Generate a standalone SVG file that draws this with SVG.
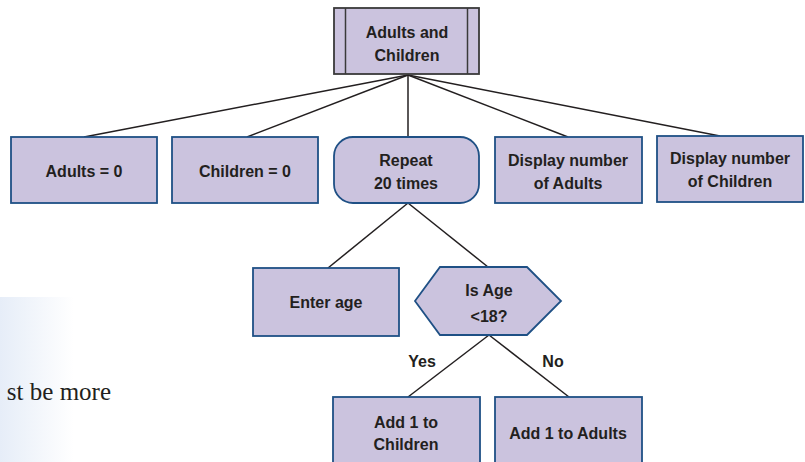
<svg xmlns="http://www.w3.org/2000/svg" width="805" height="462" viewBox="0 0 805 462">
<style>
.box{fill:#cbc3de;stroke:#1f5085;stroke-width:1.8}
.top{fill:#cbc3de;stroke:#3a3a3a;stroke-width:1.8}
.lbl{font-family:"Liberation Sans",Arial,sans-serif;font-weight:bold;font-size:16px;fill:#231f20;text-anchor:middle}
.con line{stroke:#231f20;stroke-width:1.5}
</style>
<defs>
<linearGradient id="fade" x1="0" y1="0" x2="1" y2="0">
<stop offset="0" stop-color="#e6edf8"/>
<stop offset="1" stop-color="#ffffff"/>
</linearGradient>
</defs>
<rect width="805" height="462" fill="#ffffff"/>
<rect x="0" y="297" width="74" height="165" fill="url(#fade)"/>
<text x="111" y="400" font-family="Liberation Serif,'Times New Roman',serif" font-size="25" fill="#231f20" text-anchor="end">st be more</text>
<g id="connectors" class="con">
<line x1="408" y1="75" x2="84" y2="137"/>
<line x1="408" y1="75" x2="247" y2="137"/>
<line x1="408" y1="75" x2="408" y2="137"/>
<line x1="408" y1="75" x2="568" y2="137"/>
<line x1="408" y1="75" x2="720" y2="136"/>
<line x1="408" y1="203" x2="328" y2="268"/>
<line x1="408" y1="203" x2="488" y2="267"/>
<line x1="489" y1="335" x2="408" y2="397"/>
<line x1="489" y1="335" x2="569" y2="397"/>
</g>
<g id="root">
<rect class="top" x="334" y="8" width="145" height="66"/>
<line x1="345.5" y1="8" x2="345.5" y2="74" stroke="#3a3a3a" stroke-width="1.5"/>
<line x1="467.5" y1="8" x2="467.5" y2="74" stroke="#3a3a3a" stroke-width="1.5"/>
<text class="lbl" x="407" y="38">Adults and</text>
<text class="lbl" x="407" y="61">Children</text>
</g>
<g id="adults0">
<rect class="box" x="11" y="137" width="146" height="66"/>
<text class="lbl" x="84" y="177">Adults = 0</text>
</g>
<g id="children0">
<rect class="box" x="172" y="137" width="146" height="66"/>
<text class="lbl" x="245" y="177">Children = 0</text>
</g>
<g id="repeat">
<rect class="box" x="334" y="137" width="145" height="66" rx="19" ry="19"/>
<text class="lbl" x="406" y="166">Repeat</text>
<text class="lbl" x="406" y="189">20 times</text>
</g>
<g id="displayAdults">
<rect class="box" x="495" y="137" width="147" height="66"/>
<text class="lbl" x="568" y="166">Display number</text>
<text class="lbl" x="568" y="189">of Adults</text>
</g>
<g id="displayChildren">
<rect class="box" x="657" y="136" width="146" height="66"/>
<text class="lbl" x="730" y="164">Display number</text>
<text class="lbl" x="730" y="187">of Children</text>
</g>
<g id="enterAge">
<rect class="box" x="253" y="268" width="146" height="68"/>
<text class="lbl" x="326" y="308">Enter age</text>
</g>
<g id="isAge">
<polygon class="box" points="415,301 440,267 527,267 561,301 527,335 440,335"/>
<text class="lbl" x="489" y="296">Is Age</text>
<text class="lbl" x="489" y="322">&lt;18?</text>
</g>
<g id="labels">
<text class="lbl" x="422" y="367">Yes</text>
<text class="lbl" x="553" y="367">No</text>
</g>
<g id="addChildren">
<rect class="box" x="333" y="397" width="147" height="80"/>
<text class="lbl" x="406" y="428">Add 1 to</text>
<text class="lbl" x="406" y="450">Children</text>
</g>
<g id="addAdults">
<rect class="box" x="495" y="397" width="147" height="80"/>
<text class="lbl" x="568" y="439">Add 1 to Adults</text>
</g>
</svg>
